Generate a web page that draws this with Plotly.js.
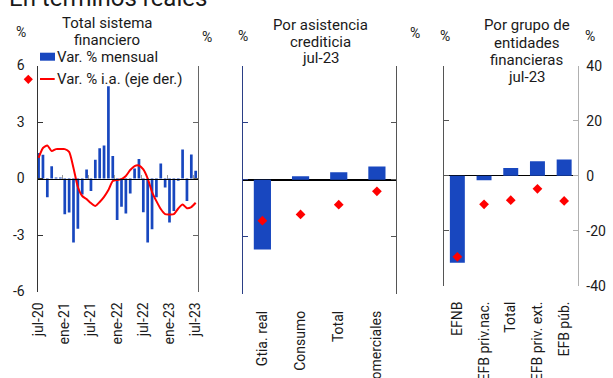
<!DOCTYPE html>
<html>
<head>
<meta charset="utf-8">
<script src="https://cdn.plot.ly/plotly-3.0.1.min.js"></script>
<style>html,body{margin:0;padding:0;background:#fff;}#chart{width:613px;height:378px;}</style>
</head>
<body>
<div id="chart"></div>
<script>
// ---- Data ----
const months = ['jul-20','ago-20','sep-20','oct-20','nov-20','dic-20','ene-21','feb-21','mar-21','abr-21','may-21','jun-21',
  'jul-21','ago-21','sep-21','oct-21','nov-21','dic-21','ene-22','feb-22','mar-22','abr-22','may-22','jun-22',
  'jul-22','ago-22','sep-22','oct-22','nov-22','dic-22','ene-23','feb-23','mar-23','abr-23','may-23','jun-23','jul-23'];
const monthlyVar = [1.36, 1.26, -1.0, 0.65, 0.05, 0.05, -1.9, -1.8, -3.4, -2.67, -0.85, 0.48,
  -0.67, 0.99, 1.6, 1.75, 4.9, 1.19, -2.2, -1.5, -1.86, -0.8, 0.53, 1.04,
  -1.79, -3.4, -2.7, -1.0, 0.8, -0.48, -2.34, -1.72, -0.12, 1.54, -1.19, 1.27, 0.41];
const yoyVar = [7.3, 10.8, 11.7, 9.7, 10.4, 10.4, 10.4, 9.4, 3.7, -3.0, -6.2, -7.3,
  -8.7, -9.7, -8.3, -6.5, -4.1, -0.9, -0.5, -0.2, 0.9, 3.0, 4.4, 4.6,
  3.2, 0.0, -4.8, -8.0, -10.8, -12.6, -12.7, -12.6, -10.6, -9.2, -10.5, -10.1, -8.6];
const monthTickLabels = ['jul-20','ene-21','jul-21','ene-22','jul-22','ene-23','jul-23'];

const creditTypes = ['Gtia. real', 'Consumo', 'Total', 'Comerciales'];
const creditMonthly = [-3.66, 0.19, 0.4, 0.7];
const creditYoY = [-14.3, -12.1, -8.7, -4.0];

const entityGroups = ['EFNB', 'EFB priv.nac.', 'Total', 'EFB priv. ext.', 'EFB púb.'];
const entityMonthly = [-31.7, -1.7, 2.8, 5.2, 5.9];
const entityYoY = [-29.5, -10.4, -8.9, -4.8, -9.2];

const leftTicks = [-6, -3, 0, 3, 6];
const rightTicks = [-40, -20, 0, 20, 40];

// ---- Helpers ----
const W = 613, H = 378;
const px = x => x / W;
const py = y => 1 - y / H;
const BLUE = '#1847bf';
const RED = '#ff0000';
const TXT = '#1a1a1a';

const idx = months.map((m, i) => i);
const tickIdx = monthTickLabels.map(l => months.indexOf(l));
const boundaryIdx = tickIdx.slice(1).map(i => i - 0.5);

const traces = [
  {type: 'bar', x: idx, y: monthlyVar, xaxis: 'x', yaxis: 'y', marker: {color: BLUE}, width: 0.62, hoverinfo: 'skip'},
  {type: 'scatter', mode: 'lines', x: idx, y: yoyVar, xaxis: 'x', yaxis: 'y2',
   line: {color: RED, width: 2, shape: 'spline', smoothing: 0.6}, hoverinfo: 'skip'},
  {type: 'scatter', mode: 'markers', x: [], y: [], xaxis: 'x4', yaxis: 'y', hoverinfo: 'skip'},
  {type: 'bar', x: creditTypes, y: creditMonthly, xaxis: 'x2', yaxis: 'y3', marker: {color: BLUE}, width: 0.45, hoverinfo: 'skip'},
  {type: 'scatter', mode: 'markers', x: creditTypes, y: creditYoY, xaxis: 'x2', yaxis: 'y4',
   marker: {symbol: 'diamond', size: 7.5, color: RED}, hoverinfo: 'skip'},
  {type: 'bar', x: entityGroups, y: entityMonthly, xaxis: 'x3', yaxis: 'y5', marker: {color: BLUE}, width: 0.56, hoverinfo: 'skip'},
  {type: 'scatter', mode: 'markers', x: entityGroups, y: entityYoY, xaxis: 'x3', yaxis: 'y6',
   marker: {symbol: 'diamond', size: 7.5, color: RED}, hoverinfo: 'skip'}
];

const baseY = {showgrid: false, zeroline: false, ticks: 'inside', ticklen: 5, showline: true, linewidth: 1, fixedrange: true};
const baseX = {showgrid: false, zeroline: false, ticks: '', showline: false, tickangle: -90, fixedrange: true,
  tickfont: {size: 14, color: TXT}};

const layout = {
  width: W, height: H,
  margin: {l: 0, r: 0, t: 0, b: 0},
  paper_bgcolor: '#fff', plot_bgcolor: 'rgba(0,0,0,0)',
  showlegend: false,
  font: {family: 'Roboto, Arial, sans-serif', size: 14, color: TXT},
  xaxis: Object.assign({}, baseX, {domain: [px(37.5), px(198.3)], anchor: 'y', range: [-0.25, 36.6],
    tickmode: 'array', tickvals: tickIdx, ticktext: monthTickLabels, ticklabelstandoff: 7}),
  xaxis4: {overlaying: 'x', anchor: 'free', position: py(178.5), range: [-0.25, 36.6],
    tickmode: 'array', tickvals: boundaryIdx, ticks: 'inside', ticklen: 4, tickcolor: '#999',
    showticklabels: false, showline: true, linecolor: '#000', linewidth: 1.5, showgrid: false, zeroline: false, fixedrange: true},
  yaxis: Object.assign({}, baseY, {domain: [py(291.5), py(65.5)], anchor: 'x', range: [-6, 6],
    tickmode: 'array', tickvals: leftTicks, ticktext: leftTicks.map(String), linecolor: '#333', tickcolor: '#333',
    tickfont: {size: 14, color: TXT}, ticklabelstandoff: 9}),
  yaxis2: Object.assign({}, baseY, {overlaying: 'y', side: 'right', anchor: 'x', range: [-40, 40],
    tickmode: 'array', tickvals: rightTicks, showticklabels: false, linecolor: '#666', tickcolor: '#666'}),
  xaxis2: Object.assign({}, baseX, {domain: [px(243.3), px(396)], anchor: 'y3', type: 'category', range: [-0.5, 3.5], ticklabelstandoff: 13}),
  yaxis3: Object.assign({}, baseY, {domain: [py(294), py(65.7)], anchor: 'x2', range: [-6, 6],
    tickmode: 'array', tickvals: leftTicks, showticklabels: false, linecolor: '#2b3f86', tickcolor: '#2b3f86',
    zeroline: true, zerolinecolor: '#000', zerolinewidth: 1.5}),
  yaxis4: Object.assign({}, baseY, {overlaying: 'y3', side: 'right', anchor: 'x2', range: [-40, 40],
    tickmode: 'array', tickvals: rightTicks, showticklabels: false, linecolor: '#555', tickcolor: '#555'}),
  xaxis3: Object.assign({}, baseX, {domain: [px(444), px(577.5)], anchor: 'y5', type: 'category', range: [-0.5, 4.5], ticklabelstandoff: 12}),
  yaxis5: Object.assign({}, baseY, {domain: [py(285.7), py(65.6)], anchor: 'x3', range: [-40, 40],
    tickmode: 'array', tickvals: rightTicks, showticklabels: false, linecolor: '#555', tickcolor: '#555',
    zeroline: true, zerolinecolor: '#000', zerolinewidth: 1.5}),
  yaxis6: Object.assign({}, baseY, {overlaying: 'y5', side: 'right', anchor: 'x3', range: [-40, 40],
    tickmode: 'array', tickvals: rightTicks, ticktext: rightTicks.map(String), linecolor: '#b0b0b0', tickcolor: '#b0b0b0',
    tickfont: {size: 14, color: TXT}, ticklabelstandoff: 5}),
  annotations: [],
  shapes: []
};

function ann(text, x, y, size, xanchor) {
  layout.annotations.push({text: text, xref: 'paper', yref: 'paper', x: px(x), y: py(y),
    showarrow: false, xanchor: xanchor || 'center', yanchor: 'middle', borderpad: 0,
    font: {size: size, color: TXT, family: 'Roboto, Arial, sans-serif'}});
}
ann('En términos reales', 8, -2, 24, 'left');
ann('Total sistema', 107, 23, 15);
ann('financiero', 107, 39.5, 15);
ann('Por asistencia', 320.5, 25, 15);
ann('crediticia', 320.5, 42, 15);
ann('jul-23', 320.5, 58, 15);
ann('Por grupo de', 526.5, 25, 15);
ann('entidades', 526.5, 42.7, 15);
ann('financieras', 526.5, 60, 15);
ann('jul-23', 526.5, 77.3, 15);
ann('%', 21, 32.5, 14);
ann('%', 206.5, 37.5, 14);
ann('%', 242.7, 35.5, 14);
ann('%', 415, 33.3, 14);
ann('%', 445, 36, 14);
ann('%', 590, 36, 14);
ann('Var. % mensual', 56, 56.7, 15, 'left');
ann('Var. % i.a. (eje der.)', 56, 79, 15, 'left');

layout.shapes.push({type: 'rect', xref: 'paper', yref: 'paper', x0: px(40), x1: px(55), y0: py(60.7), y1: py(52.7),
  fillcolor: BLUE, line: {width: 0}});
layout.shapes.push({type: 'line', xref: 'paper', yref: 'paper', x0: px(40), x1: px(54.7), y0: py(79), y1: py(79),
  line: {color: RED, width: 2}});
const dcx = 28.3, dcy = 79.3, dr = 4.6;
layout.shapes.push({type: 'path', xref: 'paper', yref: 'paper',
  path: `M ${px(dcx - dr)},${py(dcy)} L ${px(dcx)},${py(dcy - dr)} L ${px(dcx + dr)},${py(dcy)} L ${px(dcx)},${py(dcy + dr)} Z`,
  fillcolor: RED, line: {width: 0}});

Plotly.newPlot('chart', traces, layout, {displayModeBar: false, staticPlot: true});
</script>
</body>
</html>
